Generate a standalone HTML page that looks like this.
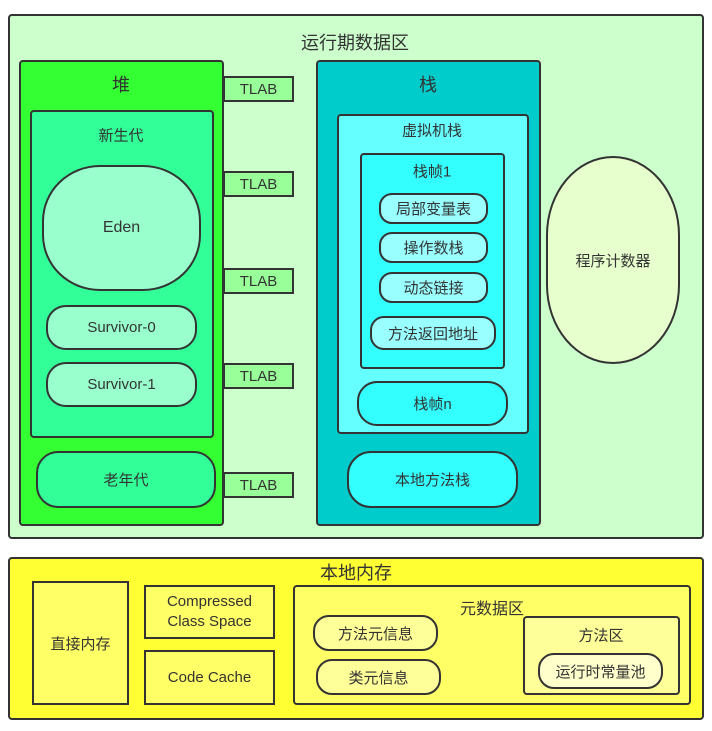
<!DOCTYPE html>
<html><head><meta charset="utf-8"><style>
body{margin:0;width:712px;height:731px;background:#fff;position:relative;overflow:hidden;font-family:"Liberation Sans","Noto Sans CJK SC",sans-serif;color:#333}
.b{position:absolute;box-sizing:border-box;border:2.5px solid #333;border-radius:4px}
.c{display:flex;align-items:center;justify-content:center;text-align:center}
.t{position:absolute;transform:translate(-50%,-50%);white-space:nowrap}
</style></head><body>
<div class="b" style="left:8px;top:14px;width:696px;height:525px;background:#ccffcc"></div>
<div class="t" style="left:355px;top:42px;font-size:18px">运行期数据区</div>

<div class="b" style="left:19px;top:60px;width:205px;height:466px;background:#33ff33"></div>
<div class="t" style="left:121px;top:84px;font-size:18px">堆</div>
<div class="b" style="left:30px;top:110px;width:184px;height:328px;background:#33ff99"></div>
<div class="t" style="left:121px;top:135px;font-size:15px">新生代</div>
<div class="b c" style="left:42px;top:165px;width:159px;height:126px;background:#99ffcc;border-radius:58px/56px;font-size:16px">Eden</div>
<div class="b c" style="left:46px;top:305px;width:151px;height:45px;background:#99ffcc;border-radius:20px;font-size:15px">Survivor-0</div>
<div class="b c" style="left:46px;top:362px;width:151px;height:45px;background:#99ffcc;border-radius:20px;font-size:15px">Survivor-1</div>
<div class="b c" style="left:36px;top:451px;width:180px;height:57px;background:#33ff99;border-radius:22px;font-size:15px">老年代</div>

<div class="b c" style="left:223px;top:76px;width:71px;height:26px;background:#99ff99;border-radius:0;font-size:15px">TLAB</div>
<div class="b c" style="left:223px;top:171px;width:71px;height:26px;background:#99ff99;border-radius:0;font-size:15px">TLAB</div>
<div class="b c" style="left:223px;top:268px;width:71px;height:26px;background:#99ff99;border-radius:0;font-size:15px">TLAB</div>
<div class="b c" style="left:223px;top:363px;width:71px;height:26px;background:#99ff99;border-radius:0;font-size:15px">TLAB</div>
<div class="b c" style="left:223px;top:472px;width:71px;height:26px;background:#99ff99;border-radius:0;font-size:15px">TLAB</div>

<div class="b" style="left:316px;top:60px;width:225px;height:466px;background:#00cccc"></div>
<div class="t" style="left:428px;top:84px;font-size:18px">栈</div>
<div class="b" style="left:337px;top:114px;width:192px;height:320px;background:#66ffff"></div>
<div class="t" style="left:432px;top:130px;font-size:15px">虚拟机栈</div>
<div class="b" style="left:360px;top:153px;width:145px;height:216px;background:#33ffff"></div>
<div class="t" style="left:432px;top:171px;font-size:15px">栈帧1</div>
<div class="b c" style="left:379px;top:193px;width:109px;height:31px;background:#99ffff;border-radius:13px;font-size:15px">局部变量表</div>
<div class="b c" style="left:379px;top:232px;width:109px;height:31px;background:#99ffff;border-radius:13px;font-size:15px">操作数栈</div>
<div class="b c" style="left:379px;top:272px;width:109px;height:31px;background:#99ffff;border-radius:13px;font-size:15px">动态链接</div>
<div class="b c" style="left:370px;top:316px;width:126px;height:34px;background:#99ffff;border-radius:14px;font-size:15px">方法返回地址</div>
<div class="b c" style="left:357px;top:381px;width:151px;height:45px;background:#33ffff;border-radius:20px;font-size:15px">栈帧n</div>
<div class="b c" style="left:347px;top:451px;width:171px;height:57px;background:#33ffff;border-radius:24px;font-size:15px">本地方法栈</div>

<div class="b c" style="left:546px;top:156px;width:134px;height:208px;background:#e6ffcc;border-radius:50%/38%;font-size:15px">程序计数器</div>

<div class="b" style="left:8px;top:557px;width:696px;height:163px;background:#ffff33"></div>
<div class="t" style="left:356px;top:572px;font-size:18px">本地内存</div>
<div class="b c" style="left:32px;top:581px;width:97px;height:124px;background:#ffff66;border-radius:0;font-size:15px">直接内存</div>
<div class="b c" style="left:144px;top:585px;width:131px;height:54px;background:#ffff66;border-radius:0;font-size:15px;line-height:20px">Compressed<br>Class Space</div>
<div class="b c" style="left:144px;top:650px;width:131px;height:55px;background:#ffff66;border-radius:0;font-size:15px">Code Cache</div>
<div class="b" style="left:293px;top:585px;width:398px;height:120px;background:#ffff66"></div>
<div class="t" style="left:492px;top:607px;font-size:16px">元数据区</div>
<div class="b c" style="left:313px;top:615px;width:125px;height:36px;background:#ffff99;border-radius:16px;font-size:15px">方法元信息</div>
<div class="b c" style="left:316px;top:659px;width:125px;height:36px;background:#ffff99;border-radius:16px;font-size:15px">类元信息</div>
<div class="b" style="left:523px;top:616px;width:157px;height:79px;background:#ffff99"></div>
<div class="t" style="left:601px;top:635px;font-size:15px">方法区</div>
<div class="b c" style="left:538px;top:653px;width:125px;height:36px;background:#ffffcc;border-radius:16px;font-size:15px">运行时常量池</div>
</body></html>
